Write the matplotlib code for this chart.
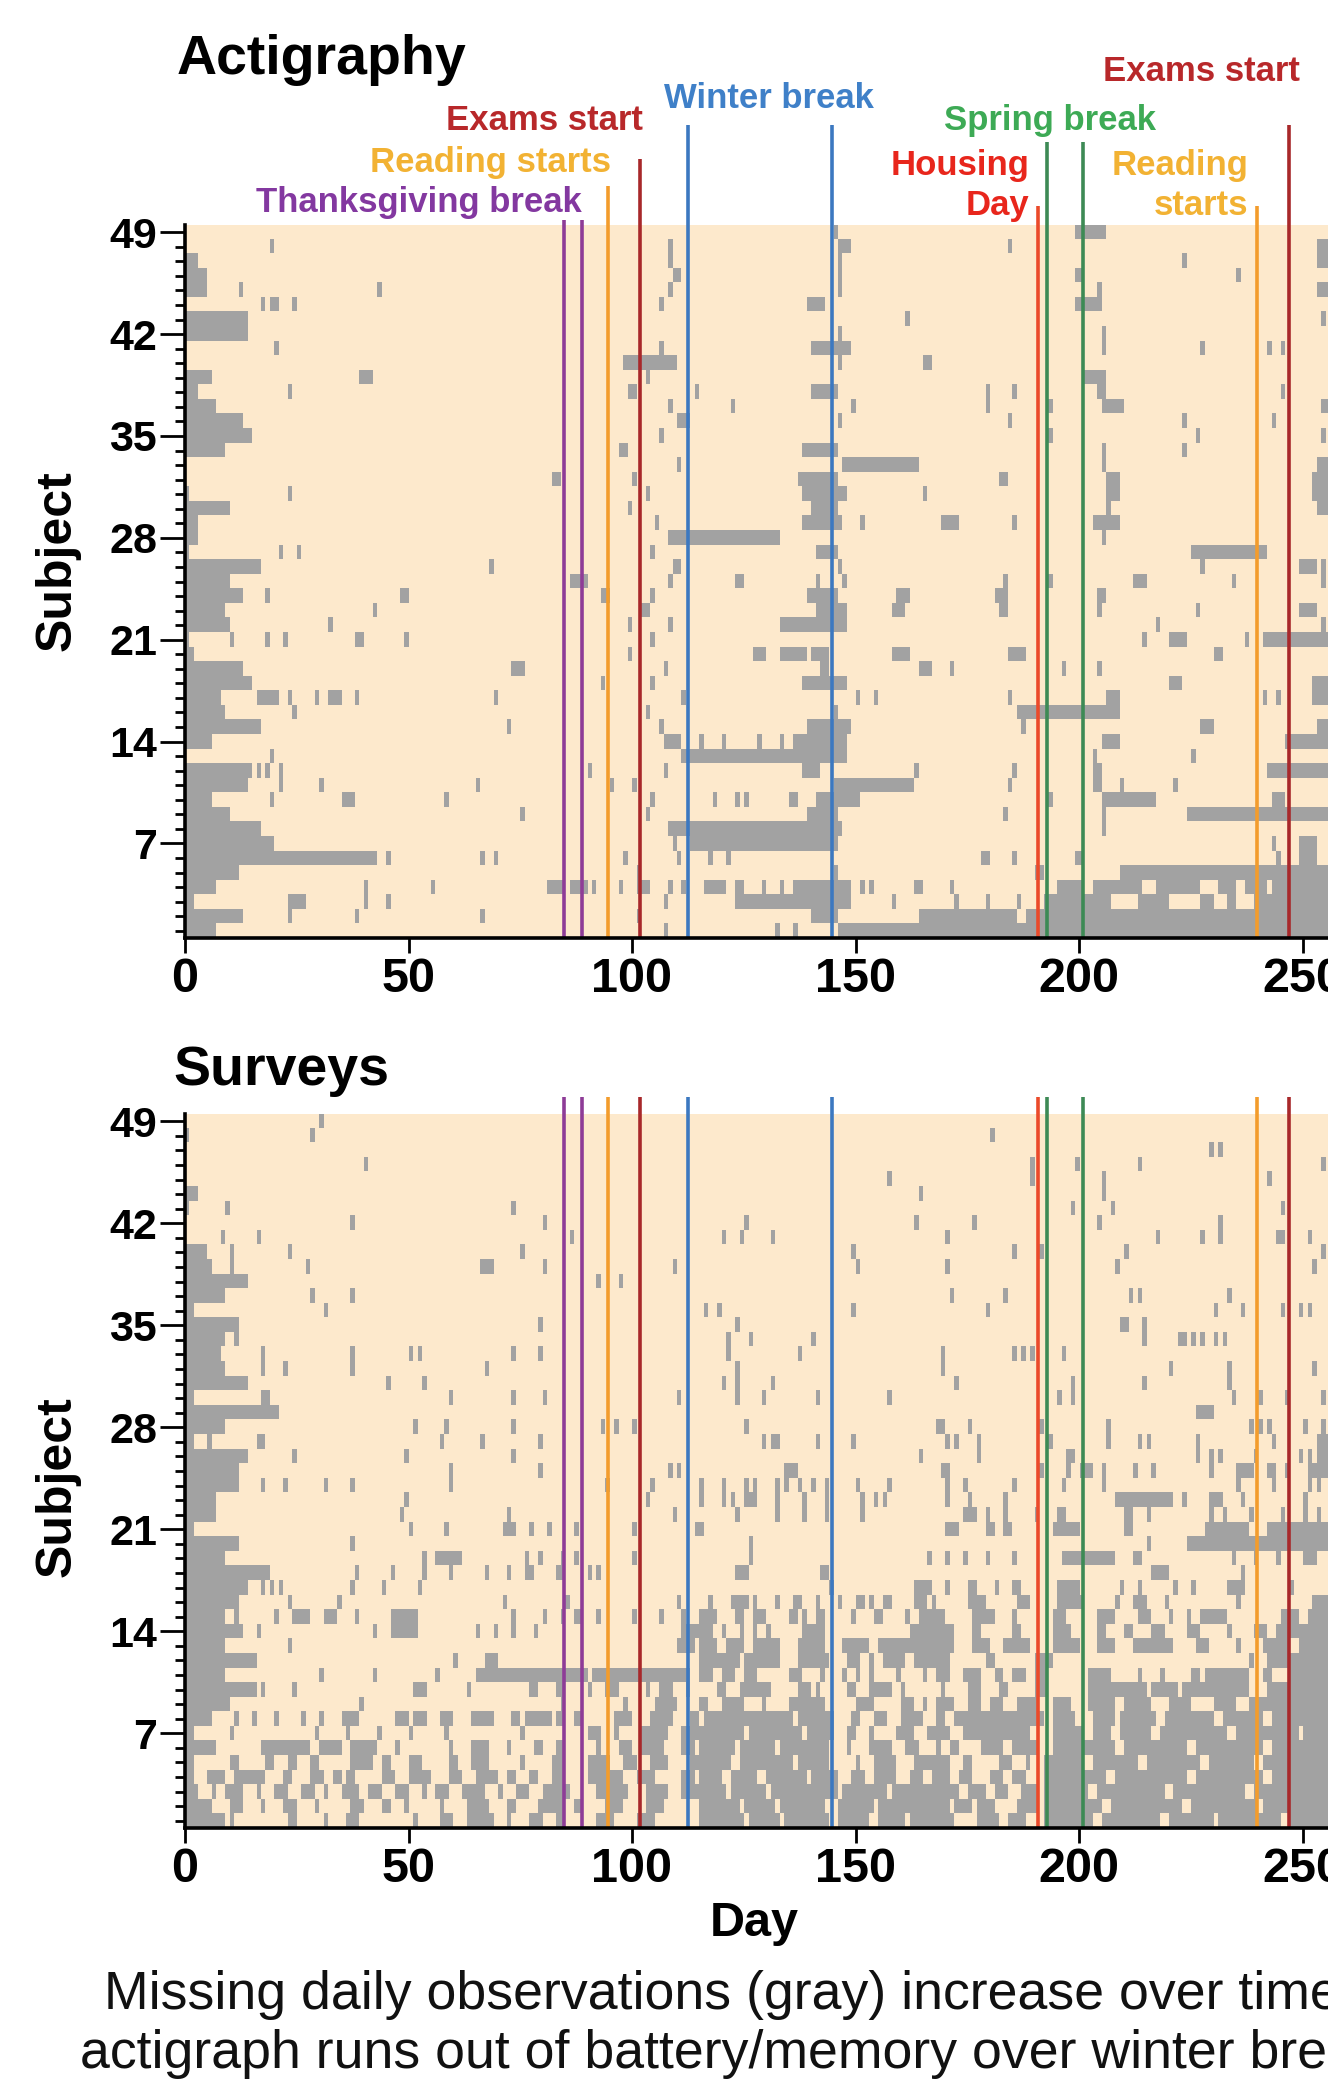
import numpy as np
import matplotlib
matplotlib.use("Agg")
import matplotlib.pyplot as plt
from matplotlib.colors import ListedColormap
from matplotlib.ticker import FixedLocator

# ---------------- data ----------------
N_DAYS = 256
N_SUBJ = 49
SUBJECT_TICKS = [7, 14, 21, 28, 35, 42, 49]
DAY_TICKS = [0, 50, 100, 150, 200, 250]

# missing days per subject (subject 1 first); "a-b" = inclusive run of days
ACT_MISSING = [
    "0-6 107 132 136 146-255",
    "0-12 23 38 66 101 140-145 164-185 188-255",
    "0-1 23-26 40 45 107 123-148 158 172 179 186 192-206 213-219 227-229 233-234 239-255",
    "0-6 40 55 81-84 86-89 91 97 101-103 108 111 116-120 123-124 129 133 136-148 151 153 163-164 171 195-200 203-213 217-226 231-234 237-241 243-255",
    "0-11 101 145 190-191 209-255",
    "0-42 45 66 69 98 110 117 121 178-179 185 199-200 244 249-252",
    "0-19 109 113-145 243 249-252",
    "0-16 108-146 205",
    "0-9 75 103 139-145 183 205 224-255",
    "0-5 19 35-37 58 104 118 123 125 135-136 141-150 193 205-216 243-245",
    "0-13 21 30 65 95 100 145-162 184 203-204 209 221",
    "0-14 16 18 21 90 107 138-141 163 185 203-204 242-255",
    "19 111-147 203 225",
    "0-5 107-110 115 120 128 133 136-147 205-208 246-255",
    "0-16 72 106 139-148 187 227-229 253-255",
    "0-8 24 103 145 186-208",
    "0-7 16-20 23 29 32-34 38 69 111 150 154 184 206-208 241 244 252-255",
    "0-14 93 104 138-147 220-222 252-255",
    "0-12 73-75 107 142-143 164-166 171 196 204",
    "0-1 99 127-129 133-138 140-143 158-161 184-187 230-231",
    "0 10 18 22 38-39 49 104 214 220-223 237 241-255",
    "0-9 32 99 108 133-147 217 254",
    "0-8 42 102-103 141-147 158-160 182-183 204 226 249-252",
    "0-12 18 48-49 93-94 104 139-145 159-161 181-183 204-205",
    "0-9 86-89 108 123-124 141 147 183 193 212-214 234 254",
    "0-16 68 109-110 146 227 249-252 254",
    "0 21 25 104 141-145 225-241",
    "0-2 108-132 205",
    "0-2 105 138-146 151 169-172 185 203-208",
    "0-9 99 140-145 206 253-255",
    "0 23 103 138-147 165 206-208 252-255",
    "82-83 100 137-145 182-183 206-208 252-255",
    "110 147-163 205 253-255",
    "0-8 97-98 138-145 205 223",
    "0-14 106 193 226 254",
    "0-12 110-112 146 184 223 243",
    "0-6 108 122 149 179 193 205-209 254-255",
    "0-2 23 99-100 114 140-145 179 185 204-205 245",
    "0-5 39-41 103 201-205",
    "98-109 146 165-166",
    "20 106 140-148 205 227 242 245",
    "0-13 146 205",
    "0-13 161 254",
    "17 19-20 24 106 139-142 199-204",
    "0-4 12 43 108 146 204 253-255",
    "0-4 109-110 146 199-200 235",
    "0-2 108 146 223 253-255",
    "19 108 146-148 184 253-255",
    "145 199-205",
]

SURVEY_MISSING = [
    "0-8 10 23-24 31 36-38 51 57-59 63-68 72 77-79 83-84 92-95 101-104 115-124 126-132 134-143 146-152 155-160 162-171 177-181 184-187 192-202 205-217 220-229 231-244 247-255",
    "0-5 10-12 17 22-24 29 37-39 44-45 49 57 63-67 72-73 79-84 87-88 94-97 103-106 115-123 125-131 133-142 146-153 155-170 172-175 177-180 186-190 192-204 207-222 225-239 241-255",
    "0-2 6 9-12 16 20-22 26-28 31 35-38 41-43 47-49 53 56-58 62-66 70 74-76 80-85 92-98 103-107 111-120 122-129 131-145 147-156 158-172 175-178 181-183 187-190 192-201 204-218 221-236 239-255",
    "0-1 5-8 11-17 22-23 28-30 33-34 36-37 44-46 50-54 59-61 65-69 72-73 77-78 82-84 90-97 101-104 111-113 115-119 122-127 130-138 140-145 149-151 154-158 162-164 167-170 173-175 180-182 185-187 192-205 208-223 226-240 243-255",
    "0-1 10-11 18-19 23-24 28-29 37-41 44-45 50-52 59-60 64-67 75 82-84 90-94 98-100 104-107 113-121 124-135 137-143 150 154-158 163-170 174-175 182-184 188 192-200 203-212 215-226 229-238 241-255",
    "0-6 17-27 30-34 37-42 47 59 64-67 72 78-79 83-84 92 97-99 102-106 111-113 115-122 124-131 133-143 148 153-157 161-163 168 171-172 178-182 185-190 194-207 210-223 226-240 243-255",
    "0-1 10 29 36 43 50 58 75 90-92 96 102-107 111-124 126-137 139-144 148-149 153 159-162 166-170 174-188 194-200 203-206 209-215 218-232 235-248 250-255",
    "0-5 11 15 20 26 30 35-38 47-49 51-53 57-59 64-68 73-74 76-81 83-84 87-88 96-99 104-108 113-114 116-135 137-144 149-150 154-156 160-164 168-169 172-191 194-198 203-207 209-216 219-229 232-240 243-255",
    "0-9 39 84 98 105-109 115-116 120-124 129 135-142 150-153 160-162 165 168-171 175-177 180-182 186-190 194-197 202-207 210-215 220-224 230-234 238-255",
    "0-15 17 24 51-53 63 77-78 83-84 90 94-96 103 106-108 112 119-120 124-130 137-139 141 148-149 153-157 160 169 175-177 182-183 190-192 202-214 216-221 223-237 242-255",
    "0-8 30 42 56 65-89 91-112 115-117 120-122 125-127 135-137 142 147 150 153 159 165 168-170 174-177 181-182 185-187 190-192 202-206 213 218 225-226 228-237 241-242 247-255",
    "0-15 60 67-69 115-123 125-132 137-143 148-150 153 156-160 163-170 179-180 190-193 238 242-255",
    "0-8 23 110-113 115-118 121-124 127-132 137-142 147-152 155-171 176-179 183-188 194-199 204-207 212-220 226-228 235 241-246 249-255",
    "0-12 16 42 46-51 65 69 73 78 111-117 120 124 127 130 138-142 162-171 176-177 185-186 194-197 204-205 210-211 216-218 224-226 233 239-241 244-255",
    "0-8 11 20 24-27 31-33 38 46-51 73 80 84 87-88 92 100 106 111 115-118 123-124 127-129 135-136 138 141-142 149 154-155 161 164-169 176-180 185 194-196 204-207 213-215 220 224 227-232 245-248 251-255",
    "0-11 23 34 71 85 110 117 122-125 127 132 136-137 141 146 150-151 153 156-157 163-165 167 175-178 186-188 195-200 208 212-214 219 235 252-255",
    "0-13 17 19 21 37 44 52 144 163-166 170 175-176 181 185-186 195-199 209 213 221 225 233-236 247",
    "0-18 38 46 53 59 67 72 76-77 83-84 90 92 123-125 142-143 216-219 236",
    "0-8 53 56-61 76 79 84 87 100 126 166 170 174 179 185 196-207 212-213 234 239 244 250-252",
    "0-11 37 126 215 224-255",
    "0-1 50 58 71-73 77 81 87 100 114-115 170-172 179-180 183-184 194-199 210-211 228-237 242-255",
    "0-6 48 72 109 123 132 138 143 151 174-176 179 183 190 195-196 210-211 215 229 232 238 245 250 253",
    "0-6 49 103 115 120 122 125-127 132 138 143 151 154 156 170 175 183 208-220 223 229-231 236 250",
    "0-11 17 22 31 37 59 94 104 115 120 125 127 132 134 137 140 143 150 157 170 174 185 196 205 235 243 251 253",
    "0-11 59 79 108 110 134-136 169-170 191 197 200-202 205 212 216 229 235-238 242-243 246 251-255",
    "0-13 24 49 73 164 177 197-198 226 229 231 239 249 251 253-255",
    "0-1 5 16-17 57 66 79 129 131-132 141 149 170 172 177 193 206 213 215 226 243 253-255",
    "0-8 51 58 73 93 96 100 125 168-169 175 191 206 238 240 242 250 254",
    "0-20 226-229",
    "0-1 17-18 59 73 80 110 123 129 141 157 195 198 234 240 246 254",
    "0-13 45 53 120 123 131 172 198 214 233",
    "0-8 17 22 37 67 123 169 220 233 252",
    "0-7 17 37 50 52 73 79 121 137 169 185 187 189 196",
    "0-8 11 121 126 140 214 222-223 225 227 230 232",
    "0-11 79 123 209-210 214",
    "0-1 31 116 119 149 179 230 236 245 249 251",
    "0-8 28 37 171 183 211 213 233",
    "0-13 92 97",
    "0-5 10 27 66-68 80 109 150 170 208 252",
    "0-4 10 23 75 149 185 191 210 254",
    "8 16 86 120 124 131 170 217 227 231 244-245 251",
    "37 80 125 163 176 204 231",
    "0 9 73 198 207 245",
    "0-2 164 205",
    "157 189 205 242",
    "40 189 199 213 254",
    "229 231",
    "0 28 180",
    "30",
]

EVENT_DAYS = [84.7, 88.8, 94.6, 101.8, 112.6, 144.8, 190.8, 192.9, 200.9, 239.9, 246.9]
EVENT_KIND = ["thanks", "thanks", "reading", "exams", "winter", "winter",
              "housing", "spring", "spring", "reading", "exams"]

# ---------------- styles ----------------
BEIGE = "#FDE9CC"
GRAY = "#A2A2A2"
LINE_COLORS = {"thanks": "#8E3C97", "reading": "#F39C2C", "exams": "#A8282A",
               "winter": "#3C78C0", "housing": "#EB4A2A", "spring": "#3D8A55"}
TEXT_COLORS = {"thanks": "#8338A0", "reading": "#F2B233", "exams": "#B8282A",
               "winter": "#3F80C8", "housing": "#E8261C", "spring": "#3DAA55"}
LINE_TOP_1 = [1.007, 1.007, 1.055, 1.093, 1.140, 1.140, 1.027, 1.116, 1.116, 1.027, 1.140]
LINE_TOP_2 = 1.024

FONT = "Liberation Sans"
plt.rcParams["font.family"] = [FONT, "DejaVu Sans"]

W, H = 1328, 2082
PX_PER_DAY = 4.47
X_MAX = 262


def to_matrix(rows):
    m = np.zeros((len(rows), N_DAYS))
    for i, s in enumerate(rows):
        for tok in s.split():
            if "-" in tok:
                a, b = map(int, tok.split("-"))
                m[i, a:b + 1] = 1
            else:
                m[i, int(tok)] = 1
    return m


fig = plt.figure(figsize=(W / 100, H / 100), dpi=100)
fig.patch.set_facecolor("white")

ax1 = fig.add_axes([185 / W, 1 - 938 / H, X_MAX * PX_PER_DAY / W, 713 / H])
ax2 = fig.add_axes([185 / W, 1 - 1828 / H, X_MAX * PX_PER_DAY / W, 714 / H])

cmap = ListedColormap([BEIGE, GRAY])
for ax, rows, tops in [(ax1, ACT_MISSING, LINE_TOP_1),
                       (ax2, SURVEY_MISSING, [LINE_TOP_2] * len(EVENT_DAYS))]:
    m = to_matrix(rows)
    ax.set_facecolor(BEIGE)
    ax.imshow(m, cmap=cmap, vmin=0, vmax=1, origin="lower", aspect="auto",
              interpolation="nearest", extent=(0, N_DAYS, 0.5, N_SUBJ + 0.5), zorder=1)
    ax.set_xlim(0, X_MAX)
    ax.set_ylim(0.5, N_SUBJ + 0.5)
    for d, k, t in zip(EVENT_DAYS, EVENT_KIND, tops):
        ax.plot([d, d], [0, t], transform=ax.get_xaxis_transform(), color=LINE_COLORS[k],
                lw=2.6, clip_on=False, solid_capstyle="butt", zorder=3)
    for s in ["top", "right"]:
        ax.spines[s].set_visible(False)
    for s in ["left", "bottom"]:
        ax.spines[s].set_linewidth(2.6)
        ax.spines[s].set_zorder(5)
    ax.set_xticks(DAY_TICKS)
    ax.set_xticklabels([str(v) for v in DAY_TICKS], fontsize=35, fontweight="bold")
    ax.set_yticks(SUBJECT_TICKS)
    ax.set_yticklabels([str(v) for v in SUBJECT_TICKS], fontsize=31, fontweight="bold")
    ax.yaxis.set_minor_locator(FixedLocator(np.arange(1, N_SUBJ + 1)))
    ax.tick_params(axis="y", which="major", length=18, width=2, pad=2)
    ax.tick_params(axis="y", which="minor", length=7, width=2)
    ax.tick_params(axis="x", which="major", length=11, width=2, pad=3)

# event labels (top panel)
tr = ax1.get_xaxis_transform()
labels = [
    ("Thanksgiving break", 88.7, 1.031, "right", "thanks"),
    ("Reading starts", 95.2, 1.087, "right", "reading"),
    ("Exams start", 102.5, 1.146, "right", "exams"),
    ("Winter break", 130.7, 1.178, "center", "winter"),
    ("Housing", 189.0, 1.083, "right", "housing"),
    ("Day", 189.0, 1.027, "right", "housing"),
    ("Spring break", 193.6, 1.146, "center", "spring"),
    ("Reading", 237.9, 1.083, "right", "reading"),
    ("starts", 237.9, 1.027, "right", "reading"),
    ("Exams start", 227.4, 1.215, "center", "exams"),
]
for txt, x, y, ha, k in labels:
    ax1.text(x, y, txt, transform=tr, ha=ha, va="center", fontsize=25,
             fontweight="bold", color=TEXT_COLORS[k], clip_on=False)

# titles and axis labels
fig.text(177 / W, 1 - 74 / H, "Actigraphy", fontsize=40, fontweight="bold",
         ha="left", va="baseline")
fig.text(173 / W, 1 - 1085 / H, "Surveys", fontsize=40, fontweight="bold",
         ha="left", va="baseline")
fig.text(58 / W, 1 - 561 / H, "Subject", fontsize=36, fontweight="bold",
         rotation=90, ha="center", va="center")
fig.text(58 / W, 1 - 1487 / H, "Subject", fontsize=36, fontweight="bold",
         rotation=90, ha="center", va="center")
fig.text(754 / W, 1 - 1936 / H, "Day", fontsize=35, fontweight="bold",
         ha="center", va="baseline")

# caption (cut off at the right edge, as in the source image)
fig.text(104 / W, 1 - 2009 / H, "Missing daily observations (gray) increase over time;",
         fontsize=38.6, ha="left", va="baseline", color="#111111")
fig.text(80 / W, 1 - 2068 / H, "actigraph runs out of battery/memory over winter break",
         fontsize=38.6, ha="left", va="baseline", color="#111111")

fig.savefig("out.png", dpi=100)
